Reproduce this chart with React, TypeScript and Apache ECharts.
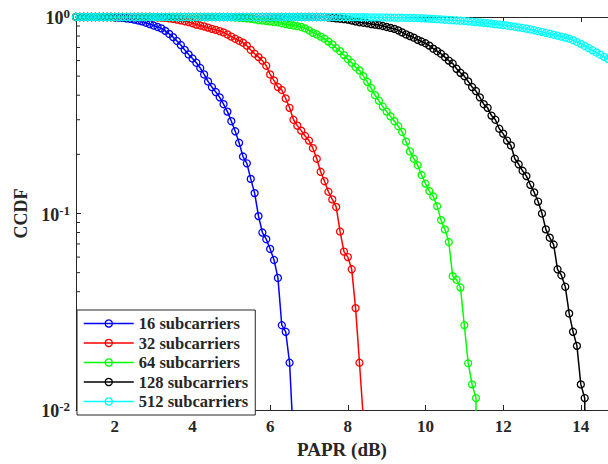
import React, { useEffect, useRef } from 'react';
import * as echarts from 'echarts';

// PAPR sampling grid (dB)
const PAPR_DB = [
  1.0, 1.1, 1.2, 1.3, 1.4, 1.5, 1.6, 1.7, 1.8, 1.9,
  2.0, 2.1, 2.2, 2.3, 2.4, 2.5, 2.6, 2.7, 2.8, 2.9,
  3.0, 3.1, 3.2, 3.3, 3.4, 3.5, 3.6, 3.7, 3.8, 3.9,
  4.0, 4.1, 4.2, 4.3, 4.4, 4.5, 4.6, 4.7, 4.8, 4.9,
  5.0, 5.1, 5.2, 5.3, 5.4, 5.5, 5.6, 5.7, 5.8, 5.9,
  6.0, 6.1, 6.2, 6.3, 6.4, 6.5, 6.6, 6.7, 6.8, 6.9,
  7.0, 7.1, 7.2, 7.3, 7.4, 7.5, 7.6, 7.7, 7.8, 7.9,
  8.0, 8.1, 8.2, 8.3, 8.4, 8.5, 8.6, 8.7, 8.8, 8.9,
  9.0, 9.1, 9.2, 9.3, 9.4, 9.5, 9.6, 9.7, 9.8, 9.9,
  10.0, 10.1, 10.2, 10.3, 10.4, 10.5, 10.6, 10.7, 10.8, 10.9,
  11.0, 11.1, 11.2, 11.3, 11.4, 11.5, 11.6, 11.7, 11.8, 11.9,
  12.0, 12.1, 12.2, 12.3, 12.4, 12.5, 12.6, 12.7, 12.8, 12.9,
  13.0, 13.1, 13.2, 13.3, 13.4, 13.5, 13.6, 13.7, 13.8, 13.9,
  14.0, 14.1, 14.2, 14.3, 14.4, 14.5, 14.6, 14.7,
];

const CCDF_16 = [
  1, 1, 1, 1, 1, 1, 1, 1, 1, 1,
  0.995, 0.993, 0.99, 0.985, 0.978, 0.97, 0.96, 0.95, 0.935, 0.92,
  0.905, 0.89, 0.875, 0.85, 0.82, 0.79, 0.755, 0.72, 0.68, 0.645,
  0.615, 0.585, 0.55, 0.51, 0.47, 0.44, 0.415, 0.39, 0.36, 0.33,
  0.295, 0.262, 0.229, 0.195, 0.18, 0.15, 0.127, 0.097, 0.08, 0.074,
  0.066, 0.058, 0.047, 0.027, 0.025, 0.0174, 0.007,
];

const CCDF_32 = [
  1, 1, 1, 1, 1, 1, 1, 1, 1, 1,
  1, 1, 1, 1, 1, 1, 1, 1, 1, 1,
  0.998, 0.996, 0.993, 0.99, 0.985, 0.978, 0.97, 0.962, 0.952, 0.942,
  0.93, 0.915, 0.905, 0.895, 0.883, 0.87, 0.86, 0.848, 0.835, 0.815,
  0.795, 0.775, 0.757, 0.74, 0.715, 0.68, 0.65, 0.625, 0.6, 0.565,
  0.51, 0.475, 0.44, 0.425, 0.385, 0.345, 0.3, 0.28, 0.264, 0.248,
  0.235, 0.215, 0.19, 0.163, 0.146, 0.129, 0.118, 0.108, 0.081, 0.064,
  0.06, 0.052, 0.033, 0.0174, 0.009,
];

const CCDF_64 = [
  1, 1, 1, 1, 1, 1, 1, 1, 1, 1,
  1, 1, 1, 1, 1, 1, 1, 1, 1, 1,
  1, 1, 1, 1, 1, 1, 1, 1, 1, 1,
  1, 1, 1, 1, 1, 1, 1, 1, 1, 1,
  0.998, 0.995, 0.992, 0.988, 0.984, 0.98, 0.972, 0.965, 0.96, 0.955,
  0.95, 0.945, 0.94, 0.93, 0.92, 0.912, 0.905, 0.898, 0.89, 0.875,
  0.855, 0.83, 0.815, 0.795, 0.775, 0.75, 0.725, 0.695, 0.67, 0.64,
  0.61, 0.585, 0.555, 0.535, 0.5, 0.468, 0.435, 0.4, 0.375, 0.35,
  0.33, 0.312, 0.295, 0.278, 0.26, 0.232, 0.207, 0.19, 0.176, 0.157,
  0.142, 0.13, 0.122, 0.109, 0.0925, 0.083, 0.0716, 0.048, 0.046, 0.042,
  0.027, 0.0173, 0.0135, 0.0115, 0.0001,
];

const CCDF_128 = [
  1, 1, 1, 1, 1, 1, 1, 1, 1, 1,
  1, 1, 1, 1, 1, 1, 1, 1, 1, 1,
  1, 1, 1, 1, 1, 1, 1, 1, 1, 1,
  1, 1, 1, 1, 1, 1, 1, 1, 1, 1,
  1, 1, 1, 1, 1, 1, 1, 1, 1, 1,
  1, 1, 1, 1, 1, 1, 1, 1, 1, 1,
  1, 1, 1, 1, 1, 0.995, 0.99, 0.985, 0.98, 0.975,
  0.97, 0.96, 0.95, 0.94, 0.935, 0.93, 0.92, 0.915, 0.91, 0.9,
  0.89, 0.88, 0.87, 0.855, 0.835, 0.815, 0.8, 0.785, 0.765, 0.75,
  0.735, 0.715, 0.69, 0.67, 0.65, 0.625, 0.6, 0.58, 0.545, 0.52,
  0.5, 0.47, 0.44, 0.42, 0.39, 0.36, 0.345, 0.315, 0.3, 0.27,
  0.255, 0.235, 0.222, 0.19, 0.178, 0.165, 0.155, 0.14, 0.128, 0.115,
  0.1, 0.083, 0.0753, 0.0695, 0.052, 0.0485, 0.0424, 0.031, 0.025, 0.0212,
  0.0135, 0.0115, 0.0001,
];

const CCDF_512 = [
  1, 1, 1, 1, 1, 1, 1, 1, 1, 1,
  1, 1, 1, 1, 1, 1, 1, 1, 1, 1,
  1, 1, 1, 1, 1, 1, 1, 1, 1, 1,
  1, 1, 1, 1, 1, 1, 1, 1, 1, 1,
  1, 1, 1, 1, 1, 1, 1, 1, 1, 1,
  1, 1, 1, 1, 1, 1, 1, 1, 1, 1,
  1, 1, 1, 1, 1, 1, 1, 1, 1, 1,
  0.999, 0.999, 0.998, 0.998, 0.997, 0.997, 0.996, 0.996, 0.995, 0.995,
  0.994, 0.993, 0.993, 0.992, 0.991, 0.99, 0.989, 0.988, 0.987, 0.986,
  0.984, 0.981, 0.978, 0.975, 0.972, 0.969, 0.966, 0.963, 0.96, 0.957,
  0.954, 0.95, 0.946, 0.942, 0.938, 0.934, 0.93, 0.925, 0.92, 0.915,
  0.91, 0.905, 0.899, 0.893, 0.886, 0.879, 0.872, 0.864, 0.856, 0.847,
  0.84, 0.83, 0.822, 0.813, 0.804, 0.795, 0.786, 0.776, 0.762, 0.746,
  0.73, 0.712, 0.695, 0.677, 0.66, 0.643, 0.627, 0.612,
];

const SERIES_NAMES = ['16 subcarriers', '32 subcarriers', '64 subcarriers', '128 subcarriers', '512 subcarriers'];
const SERIES_COLORS = ['#0000ff', '#ff0000', '#00ff00', '#000000', '#00ffff'];
const X_TICKS = [2, 4, 6, 8, 10, 12, 14];
const MINOR_Y_TICKS = [0.02, 0.03, 0.04, 0.05, 0.06, 0.07, 0.08, 0.09, 0.2, 0.3, 0.4, 0.5, 0.6, 0.7, 0.8, 0.9];

const FONT = '"Liberation Serif", "Times New Roman", serif';
const TEXT_COLOR = '#262626';

export default function App() {
  const ref = useRef<HTMLDivElement>(null);
  useEffect(() => {
    const chart = echarts.init(ref.current!, null, { renderer: 'svg' });
    const curves = [CCDF_16, CCDF_32, CCDF_64, CCDF_128, CCDF_512];
    const lineSeries = curves.map((vals, k) => ({
      type: 'line',
      name: SERIES_NAMES[k],
      data: vals.map((v, i) => [PAPR_DB[i], v]),
      symbol: 'circle',
      symbolSize: 7,
      showSymbol: true,
      lineStyle: { color: SERIES_COLORS[k], width: 1.5 },
      itemStyle: { color: 'rgba(255,255,255,0)', borderColor: SERIES_COLORS[k], borderWidth: 1.3 },
      emphasis: { disabled: true },
      silent: true,
      clip: true,
      z: 2 + k,
    }));
    const minorTicks = {
      type: 'custom',
      name: 'minorTicks',
      data: MINOR_Y_TICKS.map((v) => [1, v]),
      renderItem: (_params: any, api: any) => {
        const p = api.coord([api.value(0), api.value(1)]);
        return {
          type: 'line',
          shape: { x1: p[0], y1: p[1], x2: p[0] + 4, y2: p[1] },
          style: { stroke: TEXT_COLOR, lineWidth: 1 },
        };
      },
      silent: true,
      clip: false,
      z: 20,
    };
    const axisLineStyle = { color: TEXT_COLOR, width: 1 };
    chart.setOption({
      animation: false,
      backgroundColor: '#ffffff',
      grid: { left: 76, top: 17, right: 0, bottom: 50, containLabel: false },
      legend: {
        data: SERIES_NAMES.map((n, k) => ({
          name: n,
          itemStyle: { color: 'rgba(255,255,255,0)', borderColor: SERIES_COLORS[k], borderWidth: 1.3 },
          lineStyle: { color: SERIES_COLORS[k], width: 1.5 },
        })),
        orient: 'vertical',
        left: 77,
        top: 310,
        itemWidth: 50,
        itemHeight: 9,
        itemGap: 2.5,
        padding: [5, 7, 5, 6],
        backgroundColor: '#ffffff',
        borderColor: TEXT_COLOR,
        borderWidth: 1,
        borderRadius: 0,
        selectedMode: false,
        textStyle: { fontFamily: FONT, fontWeight: 'bold', fontSize: 16.5, color: TEXT_COLOR, lineHeight: 17 },
        z: 30,
      },
      xAxis: [
        {
          type: 'value',
          min: 1,
          max: 14.7,
          position: 'bottom',
          axisLine: { show: true, onZero: false, lineStyle: axisLineStyle },
          axisTick: { show: true, inside: true, length: 5, customValues: X_TICKS, lineStyle: axisLineStyle },
          axisLabel: { customValues: X_TICKS, margin: 8, fontFamily: FONT, fontWeight: 'bold', fontSize: 17, color: TEXT_COLOR },
          splitLine: { show: false },
          name: 'PAPR (dB)',
          nameLocation: 'middle',
          nameGap: 30,
          nameTextStyle: { fontFamily: FONT, fontWeight: 'bold', fontSize: 19, color: TEXT_COLOR },
        },
        {
          type: 'value',
          min: 1,
          max: 14.7,
          position: 'top',
          axisLine: { show: true, onZero: false, lineStyle: axisLineStyle },
          axisTick: { show: true, inside: true, length: 5, customValues: X_TICKS, lineStyle: axisLineStyle },
          axisLabel: { show: false },
          splitLine: { show: false },
        },
      ],
      yAxis: {
        type: 'log',
        logBase: 10,
        min: 0.01,
        max: 1,
        axisLine: { show: true, onZero: false, lineStyle: axisLineStyle },
        axisTick: { show: true, inside: true, length: 5, lineStyle: axisLineStyle },
        minorTick: { show: false },
        splitLine: { show: false },
        axisLabel: {
          margin: 6,
          formatter: (v: number) => `{b|10}{s|${Math.round(Math.log10(v))}}`,
          rich: {
            b: { fontFamily: FONT, fontWeight: 'bold', fontSize: 18, color: TEXT_COLOR, lineHeight: 20, verticalAlign: 'bottom' },
            s: { fontFamily: FONT, fontWeight: 'bold', fontSize: 13, color: TEXT_COLOR, lineHeight: 20, verticalAlign: 'top', padding: [0, 0, 8, 0] },
          },
        },
        name: 'CCDF',
        nameLocation: 'middle',
        nameGap: 45,
        nameTextStyle: { fontFamily: FONT, fontWeight: 'bold', fontSize: 18, color: TEXT_COLOR },
      },
      series: [...lineSeries, minorTicks],
    });
    return () => chart.dispose();
  }, []);
  return <div ref={ref} style={{ position: 'fixed', left: 0, top: 0, width: 608, height: 464 }} />;
}
